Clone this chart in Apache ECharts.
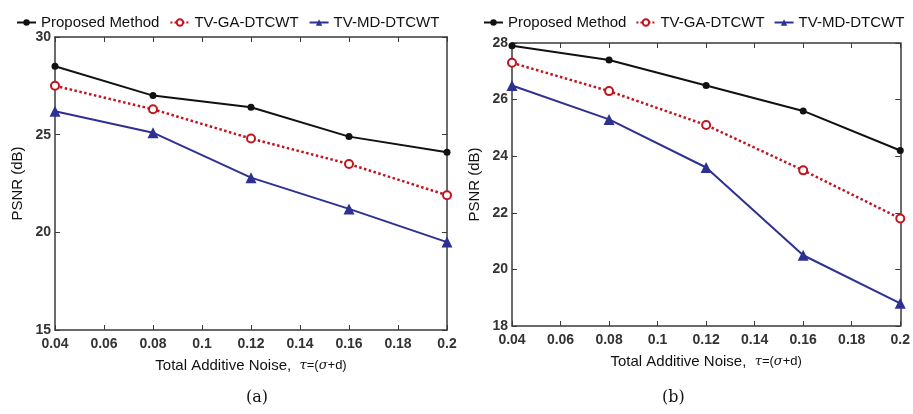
<!DOCTYPE html>
<html>
<head>
<meta charset="utf-8">
<script src="https://cdn.jsdelivr.net/npm/echarts@6/dist/echarts.min.js"></script>
<style>
  html, body { margin: 0; padding: 0; background: #fff; }
  #main { width: 913px; height: 414px; }
</style>
</head>
<body>
<div id="main"></div>
<script>
// noise levels on the x axis
var noise = [0.04, 0.08, 0.12, 0.16, 0.2];
var seriesNames = ['Proposed Method', 'TV-GA-DTCWT', 'TV-MD-DTCWT'];

// panel (a)
var propA = [28.5, 27.0, 26.4, 24.9, 24.1];
var gaA   = [27.5, 26.3, 24.8, 23.5, 21.9];
var mdA   = [26.2, 25.1, 22.8, 21.2, 19.5];

// panel (b)
var propB = [27.9, 27.4, 26.5, 25.6, 24.2];
var gaB   = [27.3, 26.3, 25.1, 23.5, 21.8];
var mdB   = [26.5, 25.3, 23.6, 20.5, 18.8];

var axisColor = '#3a3a3a';
var labelFont = { color: '#333', fontWeight: 'bold', fontSize: 14, fontFamily: 'Liberation Sans, Arial' };

function pairs(ys){ //zip x with y
  return noise.map(function(x, i){ return [x, ys[i]]; });
}

function fmtX(v){
  return parseFloat(v.toFixed(2)).toString();
}

var xName = 'Total Additive Noise,  {g|τ}{r|=(}{g|σ}{r|+d)}';
var xNameStyle = {
  color: '#111', fontSize: 15, fontFamily: 'Liberation Sans, Arial',
  rich: {
    g: { fontFamily: 'DejaVu Serif, serif', fontStyle: 'italic', fontSize: 13, color: '#111' },
    r: { fontFamily: 'Liberation Sans, Arial', fontSize: 13, color: '#111' }
  }
};

function xAxes(grid){
  return [{
    type: 'value', gridIndex: grid, min: 0.04, max: 0.2, interval: 0.02,
    name: xName, nameLocation: 'middle', nameGap: 28, nameTextStyle: xNameStyle,
    axisLine: { show: true, lineStyle: { color: axisColor, width: 1.5 } },
    axisTick: { inside: true, length: 5, lineStyle: { color: axisColor } },
    axisLabel: Object.assign({ formatter: fmtX, margin: 7 }, labelFont),
    splitLine: { show: false }
  }, {
    type: 'value', gridIndex: grid, position: 'top', min: 0.04, max: 0.2, interval: 0.02,
    axisLine: { show: true, lineStyle: { color: axisColor, width: 1.5 } },
    axisTick: { inside: true, length: 5, lineStyle: { color: axisColor } },
    axisLabel: { show: false }, splitLine: { show: false }
  }];
}

function yAxes(grid, mn, mx, step){
  return [{
    type: 'value', gridIndex: grid, min: mn, max: mx, interval: step,
    name: 'PSNR (dB)', nameLocation: 'middle', nameGap: 30,
    nameTextStyle: { color: '#111', fontSize: 15, fontFamily: 'Liberation Sans, Arial' },
    axisLine: { show: true, lineStyle: { color: axisColor, width: 1.5 } },
    axisTick: { inside: true, length: 5, lineStyle: { color: axisColor } },
    axisLabel: Object.assign({ margin: 4 }, labelFont),
    splitLine: { show: false }
  }, {
    type: 'value', gridIndex: grid, position: 'right', min: mn, max: mx, interval: step,
    axisLine: { show: true, lineStyle: { color: axisColor, width: 1.5 } },
    axisTick: { inside: true, length: 5, lineStyle: { color: axisColor } },
    axisLabel: { show: false }, splitLine: { show: false }
  }];
}

function lines(grid, prop, ga, md){
  return [{
    name: seriesNames[0], type: 'line', xAxisIndex: grid * 2, yAxisIndex: grid * 2,
    data: pairs(prop), symbol: 'circle', symbolSize: 7,
    lineStyle: { color: '#111', width: 2 }, itemStyle: { color: '#111' }
  }, {
    name: seriesNames[1], type: 'line', xAxisIndex: grid * 2, yAxisIndex: grid * 2,
    data: pairs(ga), symbol: 'emptyCircle', symbolSize: 8,
    lineStyle: { color: '#c0141e', width: 2.5, type: 'dotted' },
    itemStyle: { color: '#c0141e', borderWidth: 2.5 }
  }, {
    name: seriesNames[2], type: 'line', xAxisIndex: grid * 2, yAxisIndex: grid * 2,
    data: pairs(md), symbol: 'triangle', symbolSize: 11,
    lineStyle: { color: '#2e3192', width: 2 }, itemStyle: { color: '#2e3192' }
  }];
}

var legendText = { color: '#111', fontSize: 15, fontFamily: 'Liberation Sans, Arial' };

var chart = echarts.init(document.getElementById('main'));
chart.setOption({
  animation: false,
  backgroundColor: '#fff',
  legend: [
    { data: seriesNames, left: 11, top: 10, width: 450, itemWidth: 19, itemHeight: 8, itemGap: 10, textStyle: legendText },
    { data: seriesNames, left: 478, top: 10, width: 434, itemWidth: 19, itemHeight: 8, itemGap: 9, textStyle: legendText }
  ],
  grid: [
    { left: 55, right: 466, top: 37, bottom: 84 },
    { left: 512, right: 11, top: 43, bottom: 88 }
  ],
  xAxis: xAxes(0).concat(xAxes(1)),
  yAxis: yAxes(0, 15, 30, 5).concat(yAxes(1, 18, 28, 2)),
  series: lines(0, propA, gaA, mdA).concat(lines(1, propB, gaB, mdB)),
  graphic: [
    { type: 'text', left: 246, top: 390, style: { text: '(a)', fontSize: 16, fontFamily: 'DejaVu Serif, serif', fill: '#111' } },
    { type: 'text', left: 662, top: 390, style: { text: '(b)', fontSize: 16, fontFamily: 'DejaVu Serif, serif', fill: '#111' } }
  ]
});
</script>
</body>
</html>
